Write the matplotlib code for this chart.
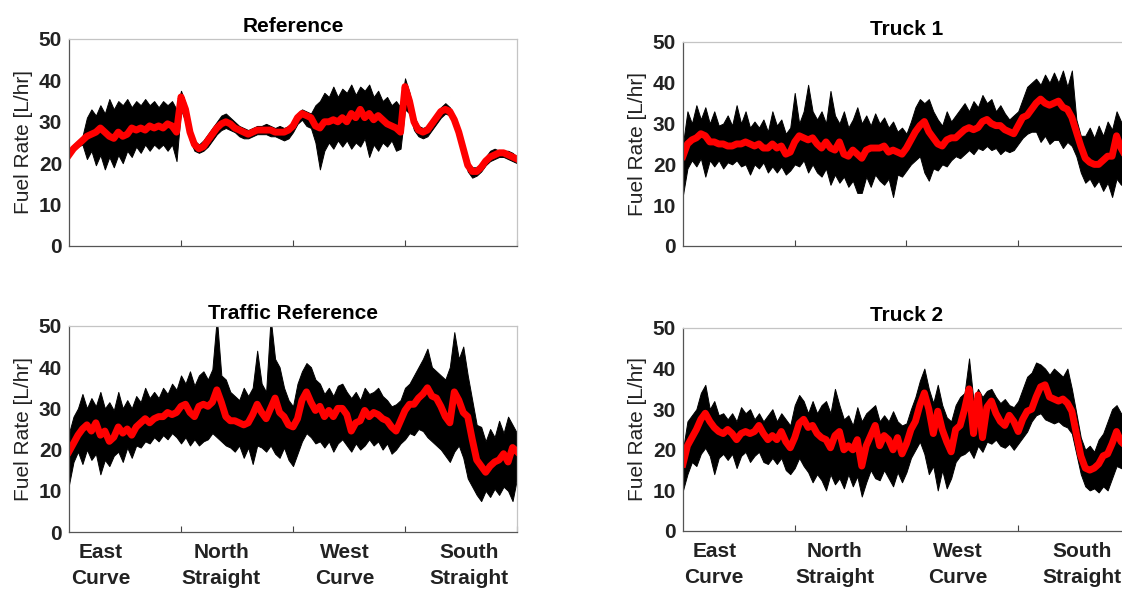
import numpy as np
import matplotlib
matplotlib.use("Agg")
import matplotlib.pyplot as plt

plt.rcParams['font.family'] = ['Liberation Sans', 'DejaVu Sans']

# lap position (0-4 = four track sections), sampled every 0.04
pos = np.linspace(0, 4, 101)

section_labels = ['East\nCurve', 'North\nStraight', 'West\nCurve', 'South\nStraight']
section_label_pos = [0.28, 1.36, 2.46, 3.57]
section_edges = [1, 2, 3, 4]

# ---- Reference ----
ref_mean = [22, 23.5, 24.5, 25.5, 26.5, 27, 27.5, 28.5, 27.5, 26.5,
            26, 27.5, 26.5, 27, 28.5, 28, 28.5, 28, 29, 28.5,
            29, 28.5, 29.5, 29, 27.5, 36, 33, 27.5, 24.5, 23.5,
            24, 25.5, 27, 28.5, 29.5, 30, 29.5, 28.5, 28, 27.5,
            27, 27.5, 28, 28, 28, 28, 27.5, 27.5, 27.5, 28,
            29, 31, 32, 31.5, 31, 29, 28.5, 30, 30, 30.5,
            30, 31, 30, 32, 31, 33, 31, 32, 30.5, 31.5,
            30.5, 29.5, 29, 28.5, 27.5, 38.5, 35, 30, 28, 27.5,
            28, 29.5, 31, 32.5, 33, 32.5, 30.5, 27.5, 23.5, 19.5,
            18, 18, 19, 20.5, 21.5, 22, 22.5, 22.5, 22, 21.5,
            21]
ref_upper = [22.5, 24.5, 25.5, 26.5, 31, 33, 31.5, 34, 32, 35.5,
             33, 35, 34, 35.5, 33.5, 35, 34, 35.5, 34, 35,
             33.5, 35, 34, 35, 33, 37.5, 34.5, 29, 25.5, 24.5,
             25.5, 27, 28.5, 30, 31.5, 32, 31, 30, 29, 28.5,
             28, 28.5, 29, 29, 29.5, 29, 28.5, 29, 28.5, 29,
             30, 32, 33, 32.5, 32, 34, 35, 37, 36, 38.5,
             36, 38, 37, 39, 36.5, 38.5, 37.5, 39, 36, 37.5,
             35, 36, 34, 35, 33.5, 40.5, 37, 31.5, 29, 28.5,
             29, 30.5, 32, 33.5, 34.5, 33.5, 31.5, 28.5, 24.5, 20.5,
             19, 19, 20, 21.5, 23, 23.5, 23, 23, 23, 22.5,
             21.5]
ref_lower = [21.5, 23, 24, 24.5, 21, 23, 19.5, 22, 18.5, 21.5,
             19, 22, 20, 23, 21.5, 24, 22.5, 24.5, 23, 24.5,
             23.5, 24.5, 23, 24.5, 20.5, 33, 30, 25.5, 23, 22.5,
             23, 24, 25.5, 27, 28, 28.5, 28, 27.5, 26.5, 26,
             26, 26.5, 27, 27, 27, 26.5, 26.5, 26, 25.5, 26,
             27.5, 29.5, 30.5, 29, 28.5, 25, 18.5, 23, 25, 23.5,
             25.5, 24, 25.5, 23.5, 25, 24, 26, 21.5, 24.5, 23,
             25, 24, 25.5, 23, 23.5, 33, 32, 28, 26.5, 26,
             26.5, 28, 29.5, 31, 32, 31.5, 29.5, 26, 22, 18,
             16.5, 17, 18, 19.5, 20.5, 21, 21.5, 21.5, 21, 20.5,
             20]

# ---- Truck 1 ----
t1_mean = [22, 25, 26, 26.5, 27.5, 27, 25.5, 25.5, 25, 25,
           24.5, 24.5, 25, 25, 25.5, 25, 24.5, 25, 24, 24,
           25, 24, 24.5, 22.5, 23, 25.5, 27, 26.5, 26, 26.5,
           25, 24, 25.5, 24, 23.5, 25.5, 22.5, 22, 23.5, 22.5,
           21.5, 23.5, 24, 24, 24, 24.5, 23, 23.5, 23, 22.5,
           24, 26, 28, 29.5, 30.5, 28, 26.5, 25, 24.5, 26,
           26.5, 26.5, 27.5, 28.5, 29, 28.5, 29, 30.5, 31, 30,
           29.5, 29.5, 28.5, 28, 27.5, 29.5, 31.5, 32, 33.5, 35,
           36, 35, 34.5, 35, 35.5, 34, 33.5, 31.5, 28, 24.5,
           21.5, 20.5, 20, 20, 21, 22, 22, 27, 24, 22,
           22]
t1_upper = [25, 33, 30, 34.5, 31, 34, 30, 33, 29.5, 30,
            32, 29.5, 34.5, 30, 33, 29, 30.5, 29, 31, 28,
            33, 29.5, 31, 27.5, 29, 37.5, 30, 33, 39.5, 33,
            31, 33, 30, 38, 32, 30, 33, 29, 31, 34,
            30, 32, 29.5, 32.5, 30, 31.5, 29, 30.5, 28, 29,
            27.5, 30.5, 34, 36, 35, 36, 33, 31, 29.5, 33,
            30.5, 32, 33.5, 35, 33, 35.5, 34, 37, 35, 36,
            33, 34.5, 32.5, 31, 32, 33, 36, 39, 40, 41,
            39.5, 42, 40, 42.5, 40, 43, 39, 43, 31, 27,
            27, 29, 26.5, 29.5, 27, 30.5, 28.5, 33, 30.5, 29,
            28]
t1_lower = [12.5, 19, 21, 19.5, 21.5, 17, 21, 19.5, 21, 19,
            20.5, 20, 21, 19.5, 20, 17.5, 20, 19, 20.5, 18,
            19.5, 18, 19.5, 17.5, 18.5, 20, 19.5, 21, 18, 20,
            18, 17, 19, 15, 17.5, 15.5, 17, 14.5, 16, 13,
            13, 17, 14.5, 17.5, 16, 15, 16.5, 12, 17.5, 17,
            18.5, 20, 21, 22, 18, 16, 19, 18.5, 20, 19.5,
            21, 22, 21.5, 22.5, 23.5, 22.5, 24, 23.5, 24.5, 23.5,
            24, 22.5, 23.5, 23, 23.5, 25, 26.5, 27.5, 28, 28,
            25.5, 27, 25, 26, 26, 24, 25.5, 24.5, 22, 18,
            15.5, 16.5, 14.5, 16, 13.5, 15.5, 12, 16.5, 15, 16,
            16]

# ---- Traffic Reference ----
tr_mean = [19.5, 21.5, 23.5, 25, 26, 24.5, 26.5, 23.5, 24.5, 22,
           23, 25.5, 24, 25, 23.5, 25.5, 26.5, 27.5, 26.5, 27.5,
           28, 28, 29, 28.5, 29, 30.5, 31, 29, 28, 30.5,
           31, 30.5, 31.5, 34.5, 31.5, 28, 27, 27, 26.5, 26,
           26.5, 28.5, 31, 29, 27.5, 30, 32.5, 29, 28, 26,
           25.5, 27.5, 32, 34, 31.5, 29.5, 30.5, 28, 29.5, 28,
           30, 30, 28.5, 24.5, 26.5, 27, 29.5, 28, 29, 28.5,
           27.5, 27, 25.5, 24.5, 27, 29.5, 31, 31, 32.5, 33.5,
           35, 33, 32.5, 30.5, 28, 26.5, 34, 32, 29, 28,
           22.5, 17.5, 16, 14.5, 16, 17, 17.5, 19, 17, 20.5,
           19.5]
tr_upper = [24, 28, 30, 33.5, 30, 32.5, 30.5, 34, 30, 31.5,
            29.5, 34, 30, 32, 30, 33, 31.5, 35, 32.5, 34,
            32.5, 35, 33.5, 36, 34.5, 38, 36, 39, 35.5, 38,
            39, 37, 39.5, 52, 38, 37, 34, 33, 32, 35,
            33, 35, 44, 36, 34, 52, 42, 40, 35, 32,
            30.5, 36, 39, 41, 40, 37, 36, 33.5, 35, 33,
            35.5, 36, 34, 32.5, 34, 32, 35, 33.5, 34, 35,
            33, 32, 30.5, 31, 32, 35, 36, 38, 40, 42,
            44.5, 40, 39, 38, 37, 40, 48.5, 42, 45, 38,
            32, 26, 25.5, 22, 25, 23, 27, 24, 28, 26,
            24]
tr_lower = [11.5, 17, 19.5, 16.5, 20, 17.5, 19, 14, 17.5, 16,
            18.5, 19.5, 17, 20.5, 18, 21, 20.5, 22, 21.5, 23,
            22, 23.5, 22.5, 24, 23, 21.5, 23, 21, 22.5, 21,
            22, 22.5, 24, 23, 22, 21, 20.5, 19.5, 21, 18,
            20.5, 16.5, 21, 20.5, 19.5, 21, 19, 18, 20.5, 17.5,
            16, 19, 22, 24, 23, 21.5, 22, 20.5, 22, 19.5,
            21.5, 22.5, 21, 19.5, 21.5, 20, 21, 22.5, 21, 22,
            20, 21.5, 19, 20, 21.5, 22.5, 24, 23.5, 25, 24.5,
            23, 22, 21, 20, 18.5, 17, 19.5, 21, 18, 13,
            11, 9, 7.5, 10, 8.5, 10.5, 9, 11, 10, 7.5,
            13]

# ---- Truck 2 ----
t2_mean = [16.5, 21, 23, 25, 27.5, 29, 27, 25.5, 24.5, 24,
           25, 24, 22.5, 24, 24.5, 24, 24.5, 26, 24, 22.5,
           23.5, 22.5, 24.5, 22, 20.5, 23, 26.5, 27.5, 25.5, 26,
           24, 23, 22.5, 20.5, 23.5, 24.5, 20, 21, 20, 22.5,
           16, 21, 23.5, 26, 21, 23.5, 22.5, 20, 23, 19,
           21.5, 25, 27, 31, 34, 30, 24, 29.5, 25, 22,
           19.5, 25, 26, 30, 35, 24, 33.5, 23, 30.5, 32,
           29, 27, 26, 28.5, 27, 24.5, 27.5, 29.5, 30, 33,
           35.5, 36, 33, 32.5, 32, 32.5, 31.5, 29.5, 24, 18.5,
           15.5, 15, 15.5, 16.5, 18.5, 19, 21.5, 24.5, 22, 21,
           21]
t2_upper = [20, 27, 28.5, 30, 34, 36, 30, 32, 28.5, 29,
            27.5, 29, 27, 30.5, 29, 30, 27.5, 29, 27, 28.5,
            30, 27, 29, 27.5, 26, 31, 33.5, 32, 29, 32,
            29, 31, 32, 29, 35, 31, 27.5, 28.5, 26, 30.5,
            27, 29, 30, 31, 27, 28.5, 27, 29.5, 27, 26,
            26.5, 30, 33, 37, 40, 35, 31.5, 36, 31, 28,
            27, 31, 33, 34, 42.5, 32, 35, 33, 34.5, 35,
            33, 31.5, 32.5, 31, 30.5, 32, 35, 38, 39, 41.5,
            41, 40, 38.5, 40, 39, 38, 40, 35, 29, 23,
            20, 21, 19.5, 22.5, 24, 27, 30, 31, 29, 27,
            26]
t2_lower = [10, 14, 17, 16, 19, 20.5, 18.5, 14, 18, 19,
            17.5, 19, 15.5, 18.5, 19.5, 17, 18.5, 19.5, 17, 16.5,
            18, 16.5, 18, 15, 14, 15.5, 18, 16, 14.5, 12,
            14, 12.5, 10, 14, 11.5, 13, 10.5, 14, 11, 13.5,
            8.5, 12, 15, 13, 12.5, 15, 13, 11, 14.5, 12,
            14.5, 18, 20, 22, 19, 14, 16, 10, 15, 10.5,
            13, 17, 18.5, 19, 20, 18, 21, 19.5, 22, 21.5,
            22.5, 21, 20.5, 21.5, 20, 21.5, 23, 24.5, 27, 28.5,
            29, 27.5, 27, 26.5, 27, 26, 25.5, 24, 19, 14,
            11, 10, 10.5, 9.5, 11, 10, 13, 16, 15.5, 15,
            14]

panels = [
    ('Reference', ref_mean, ref_upper, ref_lower, [0.0615, 0.5831, 0.3993, 0.3508], False),
    ('Truck 1', t1_mean, t1_upper, t1_lower, [0.6087, 0.5831, 0.3984, 0.3458], False),
    ('Traffic Reference', tr_mean, tr_upper, tr_lower, [0.0615, 0.0983, 0.3993, 0.3492], True),
    ('Truck 2', t2_mean, t2_upper, t2_lower, [0.6087, 0.1000, 0.3984, 0.3441], True),
]

fig = plt.figure(figsize=(11.22, 5.9), dpi=100)

for title, mean, upper, lower, rect, show_sections in panels:
    ax = fig.add_axes(rect)
    # spread of the individual runs
    ax.fill_between(pos, lower, upper, color='black', edgecolor='black', linewidth=0.7)
    # average run
    ax.plot(pos, mean, color='#ff0000', linewidth=5, solid_joinstyle='round')

    ax.set_xlim(0, 4)
    ax.set_ylim(0, 50)
    ax.set_yticks([0, 10, 20, 30, 40, 50])
    ax.set_xticks(section_edges)
    ax.set_xticklabels([])
    ax.tick_params(axis='x', which='major', direction='in', length=4, width=0.8, color='#444444')
    ax.tick_params(axis='y', length=0, pad=5, labelsize=15, labelcolor='#222222')
    for lbl in ax.get_yticklabels():
        lbl.set_fontweight('bold')

    if show_sections:
        ax.set_xticks(section_label_pos, minor=True)
        ax.set_xticklabels(section_labels, minor=True, fontsize=15, fontweight='bold',
                           color='#222222', linespacing=1.45)
        ax.tick_params(axis='x', which='minor', length=0, pad=8)

    ax.set_title(title, fontsize=15, fontweight='bold', pad=5)
    ax.set_ylabel('Fuel Rate [L/hr]', fontsize=15, color='#222222', labelpad=4)

    for side in ['left', 'bottom']:
        ax.spines[side].set_color('#555555')
        ax.spines[side].set_linewidth(0.9)
    for side in ['top', 'right']:
        ax.spines[side].set_color('#c4c4c4')
        ax.spines[side].set_linewidth(0.9)

fig.savefig('out.png', dpi=100)
